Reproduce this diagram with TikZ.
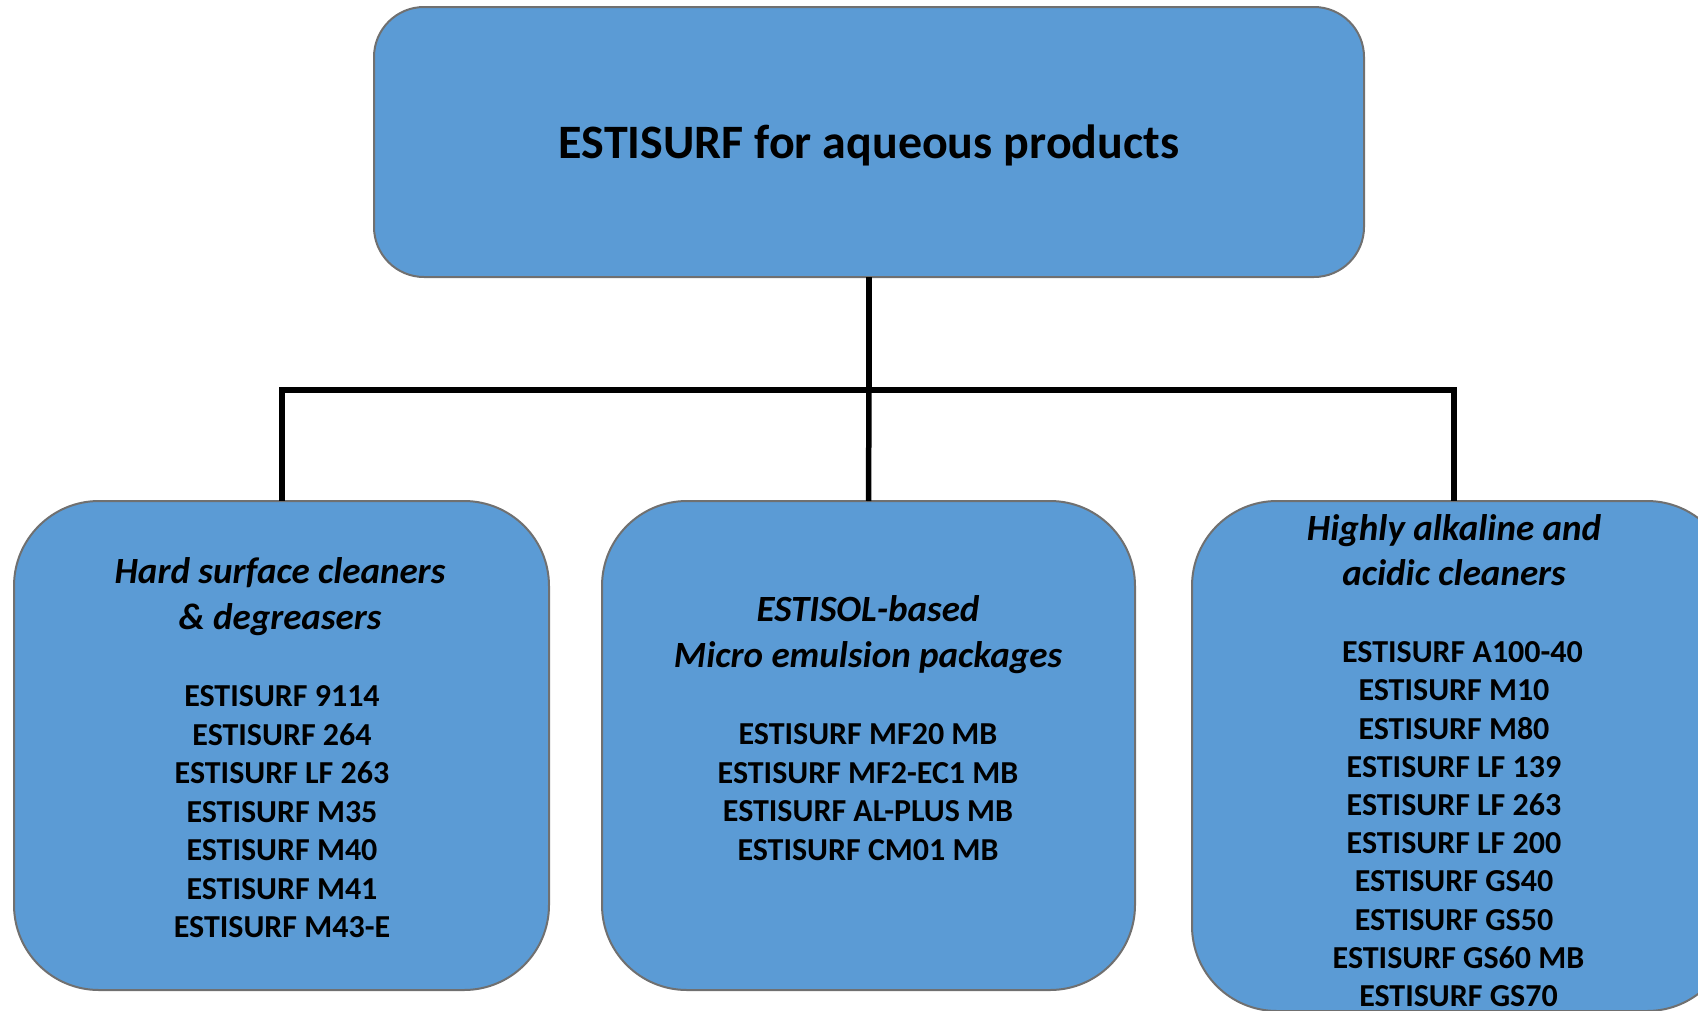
\documentclass[tikz,border=0pt]{standalone}
\usepackage{fontspec}
\setmainfont{Carlito}
\definecolor{boxblue}{HTML}{5B9BD5}
\definecolor{boxline}{HTML}{707070}
\begin{document}
\begin{tikzpicture}[x=1pt,y=-1pt,
  box/.style={draw=boxline,line width=2pt,fill=boxblue,rectangle,inner sep=0pt,outer sep=0pt},
  conn/.style={line width=5.5pt,draw=black},
  ttl/.style={font=\fontsize{48}{57}\bfseries\selectfont,inner sep=0pt},
  hdr/.style={font=\fontsize{37}{45.5}\bfseries\itshape\selectfont,align=center,inner sep=0pt},
  itm/.style={font=\fontsize{32}{38.5}\bfseries\selectfont,align=center,inner sep=0pt}]
\useasboundingbox (0,0) rectangle (1698,1010);
\clip (0,0) rectangle (1698,1010);
% boxes
\node[box,rounded corners=50pt,minimum width=990pt,minimum height=270pt] (top) at (869,142) {};
\node[box,rounded corners=85pt,minimum width=535pt,minimum height=489pt] (left) at (281.5,745.5) {};
\node[box,rounded corners=85pt,minimum width=533pt,minimum height=489pt] (mid) at (868.5,745.5) {};
\node[box,rounded corners=85pt,minimum width=540pt,minimum height=510pt] (right) at (1462,756) {};
% connectors
\coordinate (hub) at (top.south |- 0,390);
\draw[conn] (top.south) -- (hub);
\draw[conn] (hub) -| (left.north -| 282,0);
\draw[conn] (hub) -| (right.north -| 1454,0);
\draw[conn] (hub) -- (mid.north);
% texts
\node[ttl] (ttext) at (869,145) {ESTISURF for aqueous products};
\node[hdr] (lh) at (280,596.5) {Hard surface cleaners\\\& degreasers};
\node[itm,anchor=north] (li) at (282,685.5) {ESTISURF 9114\\ESTISURF 264\\ESTISURF LF 263\\ESTISURF M35\\ESTISURF M40\\ESTISURF M41\\ESTISURF M43-E};
\node[hdr] (mh) at (868,634.5) {ESTISOL-based\\Micro emulsion packages};
\node[itm,anchor=north] (mi) at (868,723.5) {ESTISURF MF20 MB\\ESTISURF MF2-EC1 MB\\ESTISURF AL-PLUS MB\\ESTISURF CM01 MB};
\node[hdr] (rh) at (1454,550) {Highly alkaline and\\acidic cleaners};
\node[itm,anchor=north,font=\fontsize{32}{38.2}\bfseries\selectfont] (ri) at (1454,641.5) {\hspace*{17pt}ESTISURF A100-40\\ESTISURF M10\\ESTISURF M80\\ESTISURF LF 139\\ESTISURF LF 263\\ESTISURF LF 200\\ESTISURF GS40\\ESTISURF GS50\\\hspace*{9pt}ESTISURF GS60 MB\\\hspace*{9pt}ESTISURF GS70};
\end{tikzpicture}
\end{document}
